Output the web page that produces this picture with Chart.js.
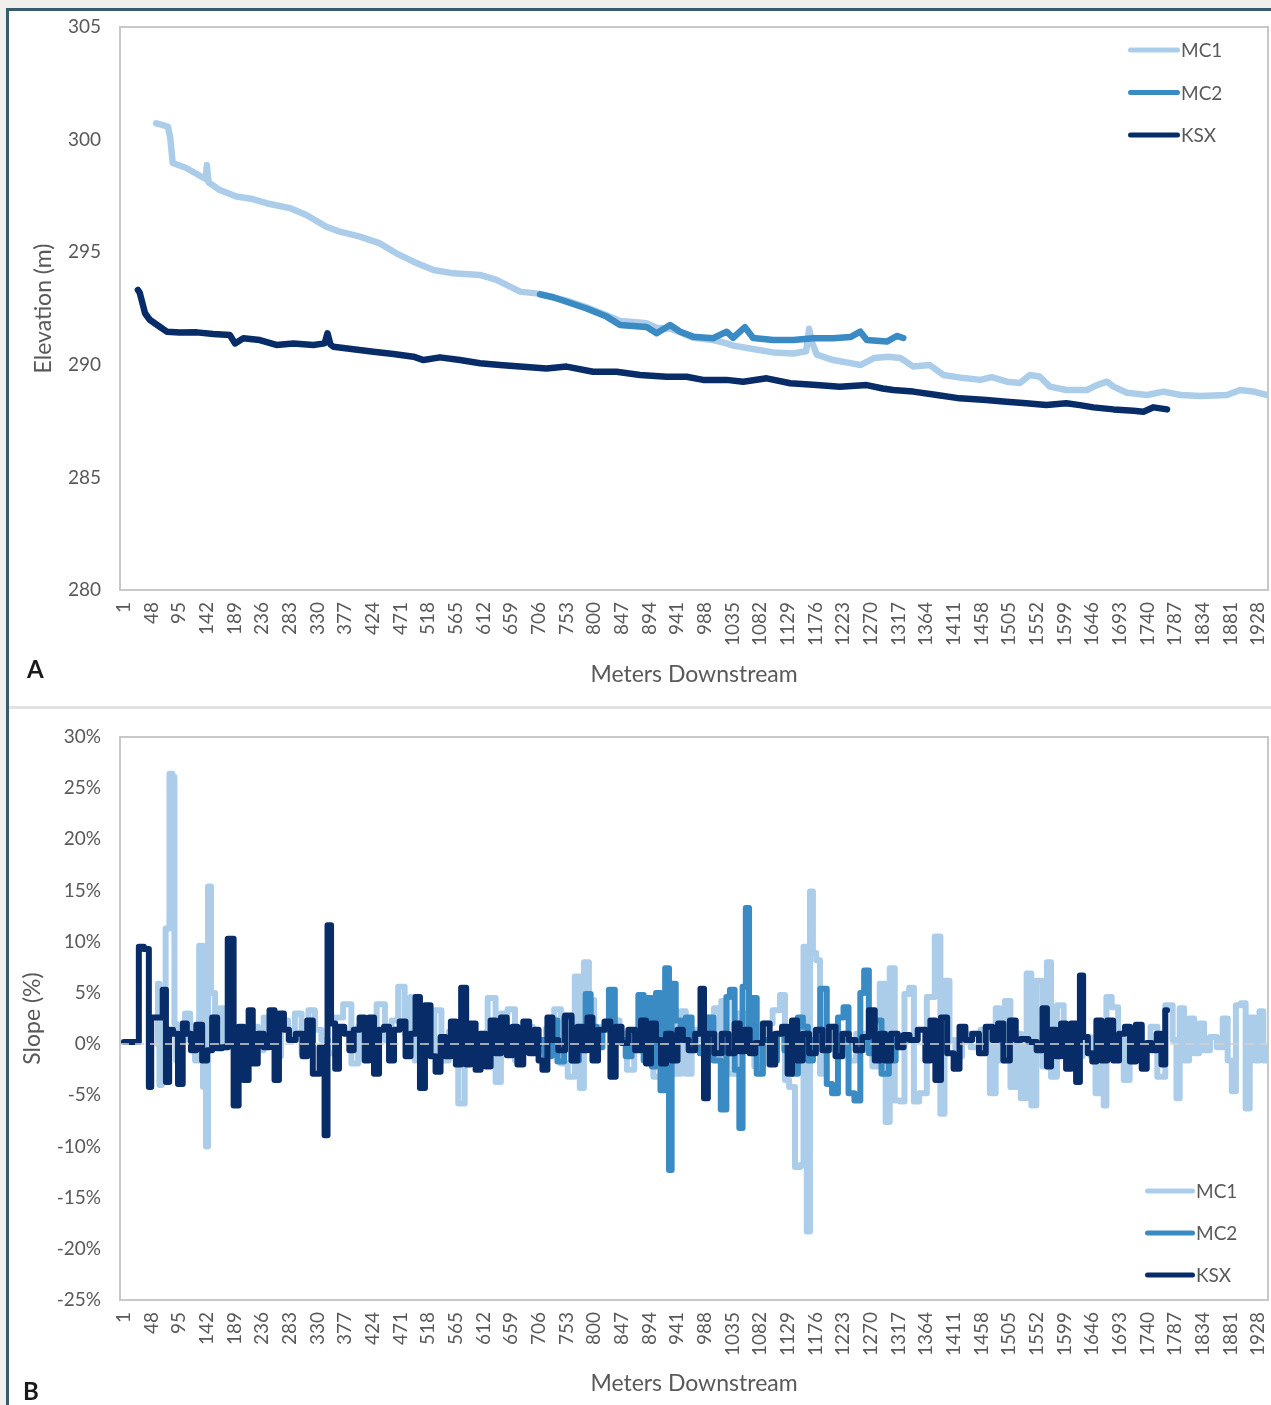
<!DOCTYPE html>
<html>
<head>
<meta charset="utf-8">
<title>Stream profiles: elevation and slope</title>
<script src="https://cdn.jsdelivr.net/npm/chart.js@4.4.1/dist/chart.umd.min.js"></script>
<style>
  html, body { margin: 0; padding: 0; background: #f0efeb; }
  #frame {
    position: absolute; left: 6px; top: 8px; width: 1265px; height: 1397px;
    background: #ffffff; border-left: 3px solid #3b5a6b; border-top: 3px solid #3b5a6b;
    box-sizing: border-box;
  }
  #sep { position: absolute; left: 9px; top: 706px; width: 1262px; height: 3px; background: #e2e2e2; }
  canvas { position: absolute; left: 9px; }
  #elev { top: 11px; }
  #slope { top: 709px; }
  .panel { position: absolute; font-family: Lato, sans-serif; font-weight: 700; font-size: 24px; line-height: 24px; color: #1a1a1a; }
</style>
</head>
<body>
<div id="frame"></div>
<div id="sep"></div>
<canvas id="elev" width="1262" height="695"></canvas>
<canvas id="slope" width="1262" height="696"></canvas>
<div class="panel" style="left:27px; top:657px;">A</div>
<div class="panel" style="left:23px; top:1379px;">B</div>
<script>
// ---- category tick labels (meters downstream) ----
const tickLabels = ['1','48','95','142','189','236','283','330','377','424','471','518','565','612',
  '659','706','753','800','847','894','941','988','1035','1082','1129','1176','1223','1270','1317',
  '1364','1411','1458','1505','1552','1599','1646','1693','1740','1787','1834','1881','1928'];

// ---- elevation profiles (m) ----
const mc1ElevM = [56,66,76,80,84,107,133,140,142,145,147,164,192,220,249,283,311,345,368,402,436,464,
  493,527,561,606,634,674,708,753,787,821,844,866,889,906,929,946,968,1002,1025,1036,1070,1104,1138,
  1160,1165,1170,1178,1206,1240,1252,1275,1300,1320,1342,1370,1393,1427,1456,1475,1501,1523,1540,1557,
  1574,1602,1637,1654,1671,1682,1705,1739,1767,1796,1830,1875,1897,1920,1942];
const mc1Elev = [300.72,300.65,300.57,300.05,298.96,298.74,298.35,298.25,298.87,298.10,298.07,297.76,
  297.47,297.36,297.14,296.96,296.65,296.13,295.91,295.69,295.39,294.95,294.58,294.21,294.06,293.99,
  293.77,293.25,293.15,292.85,292.55,292.2,291.95,291.9,291.85,291.65,291.6,291.45,291.2,291.1,290.95,
  290.85,290.7,290.55,290.5,290.6,291.6,291.0,290.45,290.21,290.05,289.99,290.3,290.36,290.3,289.92,
  289.99,289.55,289.41,289.33,289.45,289.25,289.19,289.55,289.47,289.03,288.88,288.88,289.1,289.25,
  289.03,288.76,288.66,288.81,288.66,288.61,288.66,288.88,288.81,288.66];

const mc2ElevM = [708,730,753,787,821,844,866,889,906,929,946,968,1002,1025,1036,1056,1070,1104,1138,
  1172,1206,1235,1252,1263,1297,1314,1325];
const mc2Elev = [293.13,293.0,292.8,292.5,292.14,291.77,291.72,291.68,291.4,291.77,291.47,291.25,
  291.18,291.47,291.2,291.67,291.19,291.1,291.1,291.18,291.18,291.23,291.47,291.1,291.03,291.28,291.19];

const ksxElevM = [25,28,33,37,45,62,74,96,125,153,181,190,204,232,260,289,323,342,347,352,357,391,425,
  459,493,510,538,572,606,640,674,719,753,798,838,878,923,957,985,1025,1053,1093,1133,1178,1217,1263,
  1290,1308,1342,1382,1421,1466,1500,1534,1568,1602,1625,1648,1682,1716,1733,1750,1773];
const ksxElev = [293.32,293.2,292.7,292.29,292.0,291.69,291.47,291.43,291.44,291.37,291.32,290.95,
  291.18,291.1,290.88,290.95,290.88,290.95,291.4,290.9,290.8,290.69,290.58,290.48,290.36,290.21,290.33,
  290.21,290.07,289.99,289.92,289.84,289.92,289.69,289.69,289.55,289.47,289.47,289.33,289.33,289.25,
  289.4,289.18,289.1,289.03,289.1,288.95,288.88,288.81,288.66,288.51,288.44,288.36,288.29,288.21,288.29,
  288.21,288.11,288.02,287.96,287.92,288.11,288.02];

// ---- slope profiles (%) ----
const mc1SlopeM = [58,60,63,68,76,81,86,88,92,101,109,118,126,132,139,142,146,152,160,169,177,188,200,
  211,223,234,243,254,262,274,286,297,309,320,331,342,354,365,382,393,405,422,439,450,462,472,484,492,
  498,510,522,535,546,560,578,582,596,610,628,637,646,660,671,677,691,700,711,725,739,748,762,772,779,
  786,796,804,819,836,850,861,875,892,909,931,943,951,960,971,988,999,1008,1013,1019,1034,1051,1065,
  1079,1096,1110,1121,1127,1135,1147,1153,1158,1164,1169,1174,1180,1187,1196,1204,1216,1227,1238,1252,
  1267,1278,1292,1298,1306,1315,1324,1330,1340,1346,1358,1372,1385,1391,1399,1408,1419,1431,1448,1465,
  1479,1485,1493,1502,1512,1520,1529,1540,1545,1557,1566,1572,1580,1592,1603,1614,1623,1637,1649,1654,
  1663,1668,1672,1686,1694,1705,1714,1722,1739,1751,1762,1778,1787,1791,1798,1806,1815,1823,1832,1840,
  1852,1863,1872,1880,1886,1894,1903,1910,1917,1926,1934,1939,1944];
const mc1Slope = [0,5.9,-4.0,2.5,11.3,26.4,26.1,2.0,-1.6,0.4,3.0,0.4,-1.6,9.6,-4.2,-10.0,15.4,5.0,-0.3,
  3.5,-0.3,1.0,-0.9,1.0,1.7,-0.6,2.6,0.4,-1.2,2.3,0.4,3.0,-0.9,3.3,1.4,0.4,-0.9,2.6,3.9,-1.9,1.7,0.4,
  3.9,0.4,2.3,5.6,1.0,4.6,-1.6,1.0,-1.0,3.3,-1.6,1.2,-5.8,2.0,0.8,1.0,4.5,-3.7,3.0,3.4,-1.6,0.4,1.7,
  -0.8,-0.6,1.5,3.4,-1.9,-3.2,6.6,-4.3,8.0,4.3,-0.3,1.7,2.3,1.0,-2.5,1.0,1.7,-3.2,4.9,-2.9,3.2,-2.9,
  1.4,0.4,2.6,3.5,-1.2,4.2,-2.9,3.0,0.4,-2.2,2.0,3.3,4.8,-3.5,-4.2,-12.0,-11.8,9.5,-18.3,14.9,8.9,8.2,
  -2.9,-0.6,1.7,-1.2,-0.3,-1.6,1.0,-0.6,-2.2,5.9,-7.6,7.4,-5.5,-5.6,4.9,5.5,-5.6,-4.8,4.6,10.5,-6.8,
  6.2,0.4,-1.2,1.0,-0.3,1.4,-4.8,3.5,-1.6,4.2,-4.2,1.0,-5.3,6.9,-6.0,6.2,-2.2,8.0,-3.2,3.8,0.4,-1.6,
  -1.2,0.7,-1.2,-4.8,-1.6,-6.0,4.6,3.6,1.0,-3.5,0.4,1.7,-0.3,1.7,-3.2,3.8,0.4,-5.3,3.5,-1.6,2.5,-0.9,
  2.0,-0.6,0.7,-0.3,2.5,-1.6,-4.6,3.8,4.0,-6.3,2.6,-1.6,3.2,-1.6,-0.3];

const mc2SlopeM = [708,711,722,733,742,756,767,781,790,798,810,818,832,838,849,858,869,881,887,895,901,
  909,916,925,929,934,943,951,960,971,988,997,1008,1022,1027,1034,1043,1050,1054,1061,1065,1073,1079,
  1094,1105,1116,1130,1142,1150,1159,1167,1176,1192,1198,1210,1218,1229,1235,1249,1255,1262,1271,1281,
  1295,1306,1318,1325];
const mc2Slope = [0,0.4,-1.2,2.3,-1.7,2.6,-1.6,1.5,4.9,1.7,-0.3,1.4,5.3,0.4,0.4,-1.2,1.0,4.8,-1.6,4.5,
  -2.2,5.0,-4.5,7.4,-12.3,5.9,2.3,0.4,2.6,-0.3,-0.9,2.6,-1.6,-6.4,4.6,5.3,-2.5,-8.2,5.6,13.3,-0.6,4.5,
  -2.9,0.4,-1.6,1.0,-0.6,-2.9,2.6,1.7,-1.6,0.4,5.4,-3.9,-4.8,2.6,3.6,-4.8,-5.5,5.0,7.2,-0.9,2.3,-2.9,
  -1.6,0.4,0];

const ksxSlopeM = [1,25,28,42,45,50,64,70,75,81,88,98,104,112,118,130,138,147,155,164,172,183,192,200,
  209,217,223,234,243,254,260,269,277,286,300,309,316,328,339,345,349,357,363,370,381,387,396,407,413,
  422,430,439,447,456,464,475,484,492,501,507,518,526,535,543,552,561,569,579,586,594,603,611,620,628,
  637,646,657,665,674,685,694,703,708,716,725,733,745,756,767,776,784,793,801,812,823,832,841,852,864,
  875,884,892,901,909,918,926,937,946,955,966,977,984,989,997,1011,1022,1034,1043,1051,1060,1068,1079,
  1094,1102,1113,1125,1132,1140,1149,1159,1171,1182,1193,1204,1216,1227,1238,1250,1261,1272,1281,1290,
  1298,1310,1321,1330,1341,1358,1367,1375,1384,1394,1405,1416,1425,1436,1448,1459,1471,1482,1490,1500,
  1512,1520,1529,1546,1557,1566,1572,1580,1589,1597,1606,1614,1623,1627,1634,1643,1649,1657,1666,1677,
  1686,1697,1706,1714,1726,1734,1743,1751,1760,1767,1773];
const ksxSlope = [0.2,0.2,9.5,9.3,-4.2,2.6,2.6,5.3,-3.7,1.4,1.0,-3.9,2.0,1.0,-0.6,1.9,-1.6,-0.6,2.6,
  -0.4,-0.3,10.3,-6.0,1.7,-3.5,3.3,-1.9,1.0,-0.3,3.3,-3.5,3.0,1.4,0.4,1.0,-1.2,2.3,-2.9,-0.3,-8.9,11.6,
  2.0,-2.4,1.7,1.0,-0.6,1.4,2.6,-1.6,2.6,-2.9,1.4,1.7,-1.6,1.4,2.2,-1.2,1.0,4.6,-4.3,3.8,-1.2,-2.7,0.7,
  -1.2,2.2,-2.0,5.5,-2.0,2.0,-2.5,1.0,-2.2,2.3,-0.9,2.6,-1.1,1.7,-2.0,2.2,-0.9,1.4,-1.6,-2.5,2.6,0.4,
  -0.6,2.8,-1.6,1.7,-0.6,2.6,-1.6,1.4,2.2,-3.2,1.7,0.1,1.4,-0.6,2.3,-1.9,2.0,0.4,-1.9,1.0,-1.6,1.4,0.4,
  -0.6,1.0,5.4,-5.3,1.0,-0.9,1.0,-0.9,2.0,-0.7,1.4,-0.9,0.1,2.0,-2.0,1.0,1.7,-2.9,2.3,-1.6,1.0,-0.9,
  1.4,-0.6,1.7,-1.2,1.0,0.4,-0.6,0.7,3.3,-1.6,1.0,-1.6,1.0,-0.3,0.9,0.4,1.4,-1.6,2.3,-3.5,2.6,-0.9,
  -2.4,1.7,0.4,1.0,-0.9,1.7,0.4,2.0,-1.6,2.3,0.4,0.5,0.2,-0.6,3.5,-2.2,1.4,-1.2,2.0,-2.4,2.0,-3.7,6.7,
  0.7,-0.9,-1.7,2.3,-1.6,2.3,-1.6,1.0,1.7,-1.7,1.9,-2.4,0.1,-0.6,1.0,-2.0,3.3];

// ---- styling ----
const COLORS = { MC1: '#abcde9', MC2: '#3a8ac4', KSX: '#082c68' };
const TEXT = '#595959';
const FONT = 'Lato, "Open Sans", sans-serif';
const tickValues = tickLabels.map(Number);

const pairs = (ms, vs) => ms.map((m, i) => ({ x: m, y: vs[i] }));

// light grey rectangle round the plotting area
const plotFrame = {
  id: 'plotFrame',
  afterDraw(chart) {
    const { ctx, chartArea: a } = chart;
    ctx.save();
    ctx.strokeStyle = '#c8c8c8';
    ctx.lineWidth = 2;
    ctx.strokeRect(a.left, a.top, a.right - a.left, a.bottom - a.top);
    ctx.restore();
  }
};

// dashed horizontal axis at zero, drawn over the series
const zeroAxis = {
  id: 'zeroAxis',
  afterDatasetsDraw(chart) {
    const { ctx, chartArea: a, scales } = chart;
    const y = scales.y.getPixelForValue(0);
    ctx.save();
    ctx.strokeStyle = '#d9d2ca';
    ctx.lineWidth = 1.5;
    ctx.setLineDash([9, 6]);
    ctx.beginPath();
    ctx.moveTo(a.left, y);
    ctx.lineTo(a.right, y);
    ctx.stroke();
    ctx.restore();
  }
};

// series key: short line sample followed by the series name
const seriesKey = {
  id: 'seriesKey',
  afterDraw(chart, args, o) {
    const ctx = chart.ctx;
    ctx.save();
    chart.data.datasets.forEach((ds, i) => {
      const y = o.y + i * o.gap;
      ctx.strokeStyle = ds.borderColor;
      ctx.lineWidth = 5;
      ctx.lineCap = 'round';
      ctx.beginPath();
      ctx.moveTo(o.x + 2.5, y);
      ctx.lineTo(o.x + o.len - 2.5, y);
      ctx.stroke();
      ctx.fillStyle = TEXT;
      ctx.font = '19px ' + FONT;
      ctx.textBaseline = 'middle';
      ctx.textAlign = 'left';
      ctx.fillText(ds.label, o.x + o.len + 1, y + 1);
    });
    ctx.restore();
  }
};

function xScale(axisHeight, titlePad) {
  return {
    type: 'linear', min: -5.5, max: 1944.5,
    afterBuildTicks: s => { s.ticks = tickValues.map(v => ({ value: v })); },
    afterFit: s => { s.height = axisHeight; s.paddingLeft = 0; s.paddingRight = 0; },
    ticks: {
      autoSkip: false, minRotation: 90, maxRotation: 90, padding: 12,
      color: TEXT, font: { family: FONT, size: 19 },
      callback: v => String(v)
    },
    grid: { display: false, drawTicks: false, tickLength: 0 },
    border: { display: false },
    title: { display: true, text: 'Meters Downstream', color: TEXT,
             font: { family: FONT, size: 23 }, padding: { top: 0, bottom: titlePad } }
  };
}

function yScale(min, max, fmt, title, titlePad) {
  return {
    min, max,
    afterFit: s => { s.width = 111; s.paddingTop = 0; s.paddingBottom = 0; },
    ticks: { stepSize: 5, padding: 19, color: TEXT, font: { family: FONT, size: 19 }, callback: fmt },
    grid: { display: false, drawTicks: false, tickLength: 0 },
    border: { display: false },
    title: { display: true, text: title, color: TEXT,
             font: { family: FONT, size: 23 }, padding: { top: titlePad, bottom: 0 } }
  };
}

const common = {
  responsive: false, animation: false, devicePixelRatio: 1,
  elements: {
    line: { tension: 0, borderCapStyle: 'round', borderJoinStyle: 'round', fill: false },
    point: { radius: 0, hoverRadius: 0, hitRadius: 0 }
  },
  events: []
};

// Panel A: elevation along the channel
new Chart(document.getElementById('elev'), {
  type: 'line',
  data: {
    datasets: [
      { label: 'MC1', data: pairs(mc1ElevM, mc1Elev), borderColor: COLORS.MC1, borderWidth: 6.5, order: 2 },
      { label: 'MC2', data: pairs(mc2ElevM, mc2Elev), borderColor: COLORS.MC2, borderWidth: 6.5, order: 1 },
      { label: 'KSX', data: pairs(ksxElevM, ksxElev), borderColor: COLORS.KSX, borderWidth: 6.5, order: 0 }
    ]
  },
  options: Object.assign({}, common, {
    layout: { padding: { left: 0, top: 16, right: 3, bottom: 0 } },
    plugins: {
      legend: { display: false }, tooltip: { enabled: false },
      seriesKey: { x: 1119, len: 52, y: 39, gap: 42.5 }
    },
    scales: {
      x: xScale(116, 18),
      y: yScale(280, 305, v => String(v), 'Elevation (m)', 21)
    }
  }),
  plugins: [plotFrame, seriesKey]
});

// Panel B: slope along the channel
new Chart(document.getElementById('slope'), {
  type: 'line',
  data: {
    datasets: [
      { label: 'MC1', data: pairs(mc1SlopeM, mc1Slope), borderColor: COLORS.MC1, borderWidth: 6, stepped: 'middle', order: 2 },
      { label: 'MC2', data: pairs(mc2SlopeM, mc2Slope), borderColor: COLORS.MC2, borderWidth: 6, stepped: 'middle', order: 1 },
      { label: 'KSX', data: pairs(ksxSlopeM, ksxSlope), borderColor: COLORS.KSX, borderWidth: 6, stepped: 'middle', order: 0 }
    ]
  },
  options: Object.assign({}, common, {
    layout: { padding: { left: 0, top: 28, right: 3, bottom: 0 } },
    plugins: {
      legend: { display: false }, tooltip: { enabled: false },
      seriesKey: { x: 1136, len: 50, y: 482, gap: 42 }
    },
    scales: {
      x: xScale(105, 8),
      y: yScale(-25, 30, v => v + '%', 'Slope (%)', 10)
    }
  }),
  plugins: [plotFrame, zeroAxis, seriesKey]
});
</script>
</body>
</html>
